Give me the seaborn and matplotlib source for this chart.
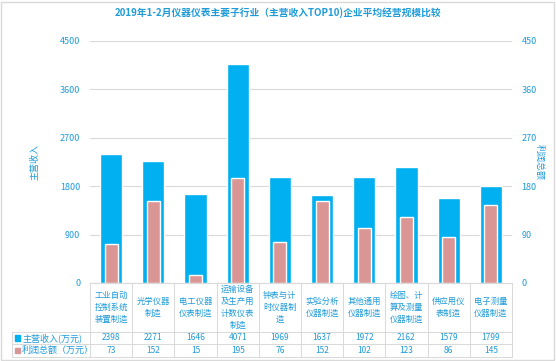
import matplotlib
matplotlib.use('Agg')
import matplotlib.pyplot as plt
import matplotlib.patches as mpatches
from matplotlib.lines import Line2D
import pandas as pd
import seaborn as sns

categories = ['工业自动\n控制系统\n装置制造', '光学仪器\n制造', '电工仪器\n仪表制造',
              '运输设备\n及生产用\n计数仪表\n制造', '钟表与计\n时仪器制\n造', '实验分析\n仪器制造',
              '其他通用\n仪器制造', '绘图、计\n算及测量\n仪器制造', '供应用仪\n表制造', '电子测量\n仪器制造']
revenue = [2398, 2271, 1646, 4071, 1969, 1637, 1972, 2162, 1579, 1799]
profit = [73, 152, 15, 195, 76, 152, 102, 123, 86, 145]
left_ticks = [0, 900, 1800, 2700, 3600, 4500]
right_ticks = [0, 90, 180, 270, 360, 450]
series_names = ['主营收入(万元)', '利润总额（万元）']

BLUE = '#00B0F0'
PINK = '#D99694'
TXT = '#1F9BD8'
GRID = '#D9D9D9'

sns.set_style('white')
plt.rcParams['font.family'] = ['Noto Sans CJK SC', 'DejaVu Sans']

df = pd.DataFrame({'cat': range(len(categories)), 'rev': revenue, 'pro': profit})

fig = plt.figure(figsize=(5.56, 3.61), dpi=100)
W, H = 556, 361
ax = fig.add_axes([90 / W, 1 - 283 / H, 422 / W, 242 / H])
ax2 = ax.twinx()

sns.barplot(data=df, x='cat', y='rev', color=BLUE, width=0.53, ax=ax, saturation=1)
sns.barplot(data=df, x='cat', y='pro', color=PINK, width=0.31, ax=ax2, saturation=1)

ax.set_ylim(0, 4500)
ax2.set_ylim(0, 450)
ax.set_xlim(-0.5, len(categories) - 0.5)
ax.set_yticks(left_ticks)
ax2.set_yticks(right_ticks)
ax.yaxis.grid(True, color=GRID, lw=0.8)
ax.set_axisbelow(True)
ax.set_xticks([])
ax2.set_xticks([])
ax.set_xlabel('')
ax2.set_xlabel('')
for a in (ax, ax2):
    for s in a.spines.values():
        s.set_visible(False)
    a.tick_params(axis='y', length=0, labelsize=6.5, labelcolor=TXT, pad=7)
ax.spines['bottom'].set_visible(True)
ax.spines['bottom'].set_color(GRID)

ax.set_ylabel('主营收入', color=TXT, fontsize=6.5, labelpad=15)
ax2.set_ylabel('利润总额', color=TXT, fontsize=6.5, rotation=-90, labelpad=5)

fig.suptitle('2019年1-2月仪器仪表主要子行业（主营收入TOP10)企业平均经营规模比较',
             color=TXT, fontsize=7, fontweight='bold', y=1 - 13 / H, va='center')

# data table under the plot
tr = ax.get_xaxis_transform()
n = len(categories)
y_rows = [0, -49 / 242, -61 / 242, -74 / 242]
x_left = -78 / 422
for i in range(n + 1):
    ax.add_line(Line2D([i - 0.5, i - 0.5], [y_rows[0], y_rows[3]], transform=tr,
                       color=GRID, lw=0.7, clip_on=False))
for yy in y_rows[1:]:
    ax.add_line(Line2D([x_left, 1], [yy, yy], transform=ax.transAxes,
                       color=GRID, lw=0.7, clip_on=False))
ax.add_line(Line2D([x_left, x_left], [y_rows[1], y_rows[3]], transform=ax.transAxes,
                   color=GRID, lw=0.7, clip_on=False))

for i, c in enumerate(categories):
    ax.text(i, (y_rows[0] + y_rows[1]) / 2, c, transform=tr, ha='center', va='center',
            fontsize=6, color=TXT, linespacing=1.45, clip_on=False)
    ax.text(i, (y_rows[1] + y_rows[2]) / 2, str(revenue[i]), transform=tr, ha='center',
            va='center', fontsize=6, color=TXT, clip_on=False)
    ax.text(i, (y_rows[2] + y_rows[3]) / 2, str(profit[i]), transform=tr, ha='center',
            va='center', fontsize=6, color=TXT, clip_on=False)

for k, (name, col) in enumerate(zip(series_names, [BLUE, PINK])):
    yc = (y_rows[k + 1] + y_rows[k + 2]) / 2
    ax.add_patch(mpatches.Rectangle((x_left + 0.008, yc - 0.011), 0.011, 0.022,
                                    transform=ax.transAxes, color=col, clip_on=False))
    ax.text(x_left + 0.024, yc, name, transform=ax.transAxes, ha='left', va='center',
            fontsize=6.5, color=TXT, clip_on=False)

fig.patches.append(mpatches.Rectangle((1 / W, 1 / H), 1 - 3 / W, 1 - 3 / H,
                                      transform=fig.transFigure, fill=False,
                                      edgecolor='#D9D9D9', lw=1))

fig.savefig('out.png', dpi=100)
